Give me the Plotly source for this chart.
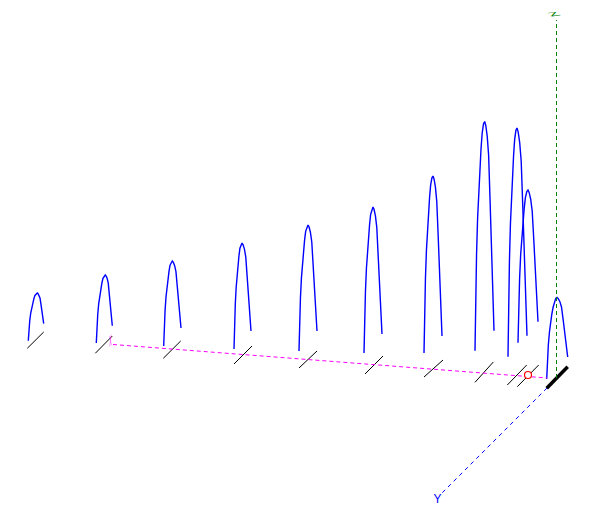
import plotly.graph_objects as go

# Projected page-plane readings for each of the 11 peaks
foot_left_x = [28.3, 96.3, 163.7, 234, 299, 364, 424, 475, 508, 518, 546.7]
foot_left_y = [340.7, 343, 346, 349, 351, 353, 353, 350.7, 356.7, 342.7, 379]
apex_x = [37.3, 105.3, 172.3, 242, 308, 373, 433, 484.7, 517, 528, 557]
apex_y = [293, 275, 261, 243, 225, 207, 176, 121.5, 128, 190, 297.5]
foot_right_x = [43.7, 112.3, 181, 251, 317, 382, 442, 494, 527, 538, 567.7]
foot_right_y = [323.7, 325.7, 328, 331, 331, 334, 336, 330.7, 335.7, 321.7, 357]

# Peak outline (fraction along width, fraction of height)
rise_u = [0, 0.06, 0.16, 0.27, 0.38, 0.49, 0.62, 0.74, 0.88, 1]
rise_v = [0, 0.22, 0.42, 0.58, 0.70, 0.79, 0.88, 0.95, 0.99, 1]
fall_u = [0, 0.12, 0.27, 0.42, 0.58, 0.73, 0.87, 1]
fall_v = [1, 0.98, 0.93, 0.84, 0.62, 0.38, 0.18, 0]

# Base ticks under each peak
tick_x0 = [27.3, 95.3, 163.3, 234, 299, 365, 424, 475, 507.3, 517.3, 546.7]
tick_y0 = [348.3, 353.3, 358.3, 364, 368, 374, 377, 382.3, 385, 386.7, 388.3]
tick_x1 = [43.7, 112.3, 180.7, 252, 317, 383, 443, 493.3, 526.7, 538.7, 567.7]
tick_y1 = [332, 336, 341, 346, 351, 356, 360, 362, 365, 365, 366.7]
tick_w = [1, 1, 1, 1, 1, 1, 1, 1, 1, 1, 3.5]

# Axes and marker
x_axis_x = [113, 547]
x_axis_y = [344.5, 378]
y_axis_x = [547, 441]
y_axis_y = [388, 494]
z_axis_x = [556.5, 556.5]
z_axis_y = [378, 20]
origin_x = [528]
origin_y = [375]
axis_labels = ["X", "Y", "Z"]
label_x = [110.5, 437.5, 556]
label_y = [343, 500, 13]
label_colors = ["#ff00ff", "#0000ff", "#008000"]
label_sizes = [12, 12, 11]

fig = go.Figure()

for i in range(len(apex_x)):
    xs, ys = [], []
    for u, v in zip(rise_u, rise_v):
        xs.append(foot_left_x[i] + u * (apex_x[i] - foot_left_x[i]))
        ys.append(foot_left_y[i] + v * (apex_y[i] - foot_left_y[i]))
    for u, v in zip(fall_u[1:], fall_v[1:]):
        xs.append(apex_x[i] + u * (foot_right_x[i] - apex_x[i]))
        ys.append(foot_right_y[i] + v * (apex_y[i] - foot_right_y[i]))
    fig.add_trace(go.Scatter(x=xs, y=ys, mode="lines", line=dict(color="#0000ff", width=1.4)))
    fig.add_trace(go.Scatter(x=[tick_x0[i], tick_x1[i]], y=[tick_y0[i], tick_y1[i]], mode="lines",
                             line=dict(color="#000000", width=tick_w[i])))

fig.add_trace(go.Scatter(x=x_axis_x, y=x_axis_y, mode="lines",
                         line=dict(color="#ff00ff", width=1, dash="4px,3px")))
fig.add_trace(go.Scatter(x=y_axis_x, y=y_axis_y, mode="lines",
                         line=dict(color="#0000ff", width=1, dash="4px,4px")))
fig.add_trace(go.Scatter(x=z_axis_x, y=z_axis_y, mode="lines",
                         line=dict(color="#008000", width=1, dash="4px,3px")))
fig.add_trace(go.Scatter(x=origin_x, y=origin_y, mode="markers",
                         marker=dict(symbol="circle", size=7, color="#ffffff",
                                     line=dict(width=1.2, color="#ff0000"))))
fig.add_trace(go.Scatter(x=label_x, y=label_y, mode="text", text=axis_labels,
                         textposition="middle center",
                         textfont=dict(family="Liberation Sans", color=label_colors, size=label_sizes)))

fig.update_layout(
    width=602, height=530, margin=dict(l=0, r=0, t=0, b=0), showlegend=False,
    paper_bgcolor="#ffffff", plot_bgcolor="#ffffff",
    xaxis=dict(range=[0, 602], visible=False, fixedrange=True),
    yaxis=dict(range=[530, 0], visible=False, fixedrange=True),
)

page_script = """
document.body.style.margin = '0';
var warp = {X: 'matrix(0.3,-0.2,0,1.3,0,0)', Z: 'matrix(1.5,-0.2,0.6,0.45,0,0)'};
document.querySelectorAll('.textpoint text').forEach(function (t) {
  var m = warp[t.textContent];
  if (!m) return;
  var x = t.getAttribute('x'), y = t.getAttribute('y');
  t.setAttribute('transform', 'translate(' + x + ',' + y + ') ' + m + ' translate(' + (-x) + ',' + (-y) + ')');
});
"""
fig.write_html("out.html", config=dict(displayModeBar=False), post_script=page_script)
